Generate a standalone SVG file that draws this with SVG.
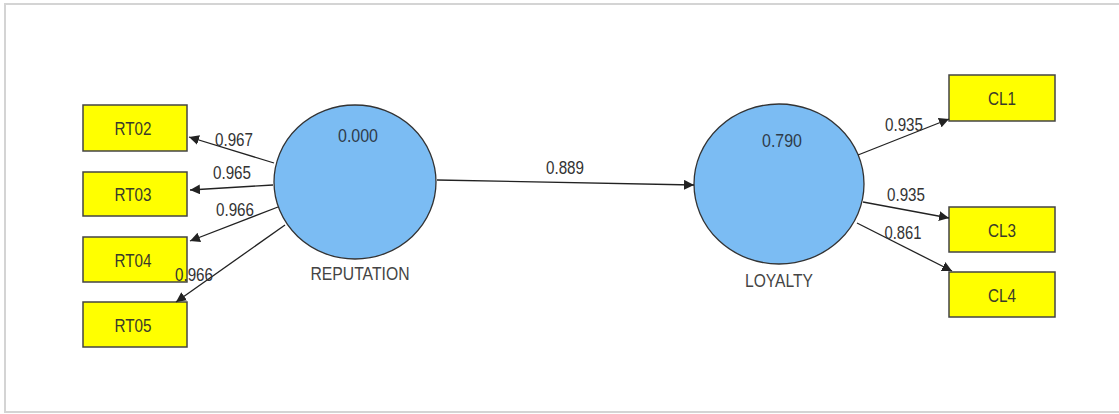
<svg xmlns="http://www.w3.org/2000/svg" width="1119" height="414" viewBox="0 0 1119 414">
<defs>
<marker id="ah" viewBox="0 0 10 10" refX="10" refY="5" markerWidth="10" markerHeight="10" markerUnits="userSpaceOnUse" orient="auto">
<path d="M0,0 L10,5 L0,10 z" fill="#222"/>
</marker>
</defs>
<style>
.frame{fill:#fff;stroke:#d4d4d4;stroke-width:2}
.ind{fill:#ffff00;stroke:#444;stroke-width:1.5}
.lv{fill:#7bbcf3;stroke:#333;stroke-width:1.3}
.t{font-family:"Liberation Sans",Arial,sans-serif;fill:#333;text-anchor:middle}
.box{font-size:19px;fill:#3a3a2a}
.lbl{font-size:18px}
.val{font-size:19px;fill:#2e3b4a}
.name{font-size:18px;fill:#444}
.edge{stroke:#222;stroke-width:1.3;fill:none;marker-end:url(#ah)}
</style>
<rect class="frame" x="5" y="4" width="1130" height="408"/>
<g id="RT02"><rect class="ind" x="83" y="105" width="104" height="46"/><text class="t box" x="133" y="135" textLength="37" lengthAdjust="spacingAndGlyphs">RT02</text></g>
<g id="RT03"><rect class="ind" x="83" y="172" width="104" height="44"/><text class="t box" x="133" y="201" textLength="37" lengthAdjust="spacingAndGlyphs">RT03</text></g>
<g id="RT04"><rect class="ind" x="83" y="237" width="104" height="45"/><text class="t box" x="133" y="267" textLength="37" lengthAdjust="spacingAndGlyphs">RT04</text></g>
<g id="RT05"><rect class="ind" x="83" y="302" width="104" height="45"/><text class="t box" x="133" y="332" textLength="37" lengthAdjust="spacingAndGlyphs">RT05</text></g>
<g id="REPUTATION"><ellipse class="lv" cx="355" cy="182" rx="81" ry="77"/><text class="t val" x="358" y="142" textLength="40" lengthAdjust="spacingAndGlyphs">0.000</text><text class="t name" x="360" y="280" textLength="99" lengthAdjust="spacingAndGlyphs">REPUTATION</text></g>
<g id="LOYALTY"><ellipse class="lv" cx="779" cy="184" rx="85" ry="80"/><text class="t val" x="782" y="147" textLength="40" lengthAdjust="spacingAndGlyphs">0.790</text><text class="t name" x="779" y="287" textLength="68" lengthAdjust="spacingAndGlyphs">LOYALTY</text></g>
<g id="CL1"><rect class="ind" x="949" y="75" width="106" height="46"/><text class="t box" x="1002" y="105" textLength="28" lengthAdjust="spacingAndGlyphs">CL1</text></g>
<g id="CL3"><rect class="ind" x="949" y="207" width="106" height="45"/><text class="t box" x="1002" y="237" textLength="28" lengthAdjust="spacingAndGlyphs">CL3</text></g>
<g id="CL4"><rect class="ind" x="949" y="272" width="106" height="45"/><text class="t box" x="1002" y="302" textLength="28" lengthAdjust="spacingAndGlyphs">CL4</text></g>
<g id="connectors">
<line class="edge" x1="274" y1="163" x2="189" y2="137"/>
<line class="edge" x1="273" y1="185" x2="190" y2="190"/>
<line class="edge" x1="278" y1="207" x2="190" y2="241"/>
<line class="edge" x1="285" y1="225" x2="176" y2="302"/>
<line class="edge" x1="437" y1="180" x2="694" y2="185"/>
<line class="edge" x1="858" y1="155" x2="949" y2="119"/>
<line class="edge" x1="863" y1="202" x2="949" y2="218"/>
<line class="edge" x1="857" y1="223" x2="952" y2="271"/>
<text class="t lbl" x="234" y="146" textLength="38" lengthAdjust="spacingAndGlyphs">0.967</text>
<text class="t lbl" x="232" y="179" textLength="38" lengthAdjust="spacingAndGlyphs">0.965</text>
<text class="t lbl" x="235" y="216" textLength="38" lengthAdjust="spacingAndGlyphs">0.966</text>
<text class="t lbl" x="194" y="281" textLength="38" lengthAdjust="spacingAndGlyphs">0.966</text>
<text class="t lbl" x="565" y="174" textLength="38" lengthAdjust="spacingAndGlyphs">0.889</text>
<text class="t lbl" x="904" y="131" textLength="38" lengthAdjust="spacingAndGlyphs">0.935</text>
<text class="t lbl" x="906" y="201" textLength="38" lengthAdjust="spacingAndGlyphs">0.935</text>
<text class="t lbl" x="903" y="239" textLength="37" lengthAdjust="spacingAndGlyphs">0.861</text>
</g>
</svg>
